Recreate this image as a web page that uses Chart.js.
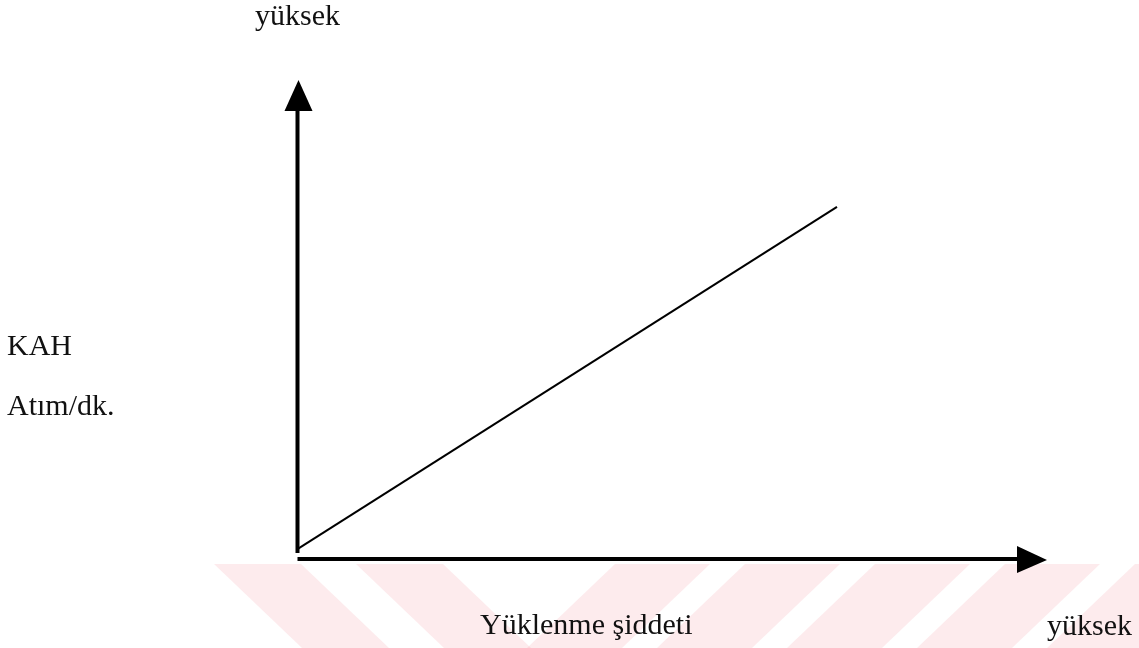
<!DOCTYPE html>
<html>
<head>
<meta charset="utf-8">
<script src="https://cdn.jsdelivr.net/npm/chart.js@4.4.0/dist/chart.umd.min.js"></script>
<style>
  html, body { margin: 0; padding: 0; background: #fff; }
  #wrap { width: 1139px; height: 648px; position: relative; }
</style>
</head>
<body>
<div id="wrap"><canvas id="kahChart"></canvas></div>
<script>
// Yüklenme şiddeti (x) ve KAH (y), göreli birimler 0-100
const yuklenme = [0, 72];
const kah = [2, 73.5];

// Eksen yazıları
const yAxisTop = 'yüksek';
const yAxisLabel = ['KAH', 'Atım/dk.'];
const xAxisLabel = 'Yüklenme şiddeti';
const xAxisEnd = 'yüksek';

const FONT = '30px "Liberation Serif", "Times New Roman", serif';

// Alttaki soluk pembe şeritler
const bandPlugin = {
    id: 'band',
    beforeDraw(chart) {
        const ctx = chart.ctx;
        const top = 564, bottom = chart.height, h = bottom - top;
        const shift = 88;
        ctx.save();
        ctx.fillStyle = 'rgba(230, 30, 60, 0.09)';
        // sola yatık şeritler
        [[214, 301], [356, 443]].forEach(([a, b]) => {
            ctx.beginPath();
            ctx.moveTo(a, top); ctx.lineTo(b, top);
            ctx.lineTo(b + shift, bottom); ctx.lineTo(a + shift, bottom);
            ctx.closePath(); ctx.fill();
        });
        // sağa yatık şeritler
        for (let a = 615; a < chart.width + shift; a += 130) {
            ctx.beginPath();
            ctx.moveTo(a, top); ctx.lineTo(a + 95, top);
            ctx.lineTo(a + 95 - shift, bottom); ctx.lineTo(a - shift, bottom);
            ctx.closePath(); ctx.fill();
        }
        ctx.restore();
    }
};

// Oklu eksenler ve yazılar
const axesPlugin = {
    id: 'arrowAxes',
    afterDatasetsDraw(chart) {
        const ctx = chart.ctx;
        const x = chart.scales.x, y = chart.scales.y;
        const ox = x.getPixelForValue(0) + 0.5;
        const oy = y.getPixelForValue(0);
        const xEnd = x.right, yEnd = y.top;

        ctx.save();
        ctx.strokeStyle = '#000';
        ctx.fillStyle = '#000';
        ctx.lineWidth = 4;

        // dikey eksen
        ctx.beginPath();
        ctx.moveTo(ox, oy - 6);
        ctx.lineTo(ox, yEnd + 28);
        ctx.stroke();
        ctx.beginPath();
        ctx.moveTo(ox + 1, yEnd);
        ctx.lineTo(ox + 15, yEnd + 31);
        ctx.lineTo(ox - 13, yEnd + 31);
        ctx.closePath(); ctx.fill();

        // yatay eksen
        ctx.beginPath();
        ctx.moveTo(ox, oy);
        ctx.lineTo(xEnd - 27, oy);
        ctx.stroke();
        ctx.beginPath();
        ctx.moveTo(xEnd, oy + 1);
        ctx.lineTo(xEnd - 30, oy - 13);
        ctx.lineTo(xEnd - 30, oy + 14);
        ctx.closePath(); ctx.fill();

        // yazılar
        ctx.font = FONT;
        ctx.fillStyle = '#111';
        ctx.textBaseline = 'alphabetic';
        ctx.textAlign = 'center';
        ctx.fillText(yAxisTop, ox, 25);
        ctx.textAlign = 'left';
        ctx.fillText(yAxisLabel[0], 7, 355);
        ctx.fillText(yAxisLabel[1], 7, 415);
        ctx.fillText(xAxisLabel, 480, 634);
        ctx.fillText(xAxisEnd, xEnd, 635);
        ctx.restore();
    }
};

const ctx = document.getElementById('kahChart').getContext('2d');
const kahChart = new Chart(ctx, {
    type: 'scatter',
    data: {
        datasets: [{
            data: yuklenme.map((v, i) => ({ x: v, y: kah[i] })),
            showLine: true,
            borderColor: '#000',
            borderWidth: 2,
            pointRadius: 0,
            fill: false,
            clip: false
        }]
    },
    options: {
        responsive: true,
        maintainAspectRatio: false,
        animation: false,
        layout: { padding: { left: 297, right: 92, top: 80, bottom: 89 } },
        plugins: {
            legend: { display: false },
            tooltip: { enabled: false },
            title: { display: false }
        },
        scales: {
            x: { type: 'linear', min: 0, max: 100, display: false },
            y: { type: 'linear', min: 0, max: 100, display: false }
        }
    },
    plugins: [bandPlugin, axesPlugin]
});
</script>
</body>
</html>
